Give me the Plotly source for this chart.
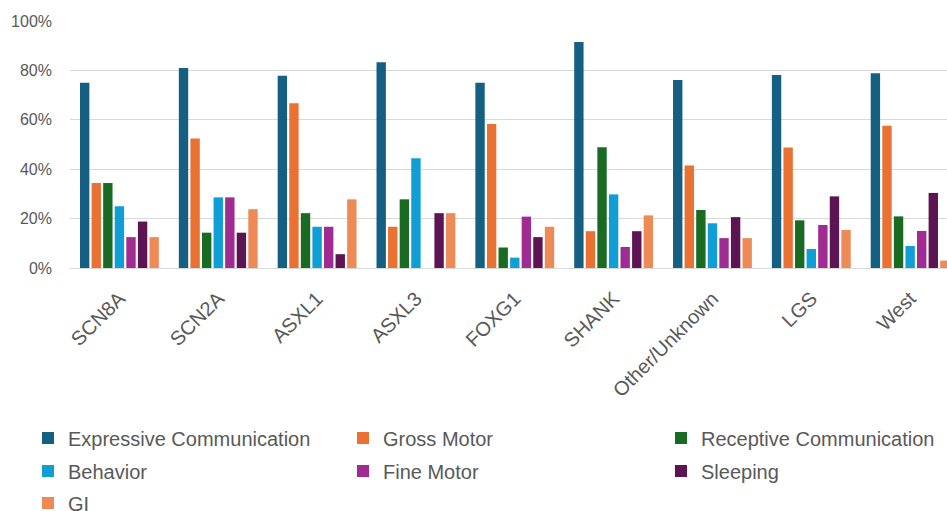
import plotly.graph_objects as go

# Categories (genetic cause / epilepsy syndrome)
categories = ["SCN8A", "SCN2A", "ASXL1", "ASXL3", "FOXG1", "SHANK",
              "Other/Unknown", "LGS", "West"]

# Share of respondents reporting each domain (%)
expressive = [75.0, 81.0, 77.8, 83.3, 75.0, 91.5, 76.1, 78.1, 78.8]
gross_motor = [34.4, 52.4, 66.7, 16.7, 58.3, 14.9, 41.5, 48.8, 57.6]
receptive = [34.4, 14.3, 22.2, 27.8, 8.3, 48.9, 23.5, 19.3, 20.9]
behavior = [25.0, 28.6, 16.7, 44.4, 4.2, 29.8, 18.1, 7.7, 8.9]
fine_motor = [12.5, 28.6, 16.7, 0.0, 20.8, 8.5, 12.1, 17.4, 15.0]
sleeping = [18.8, 14.3, 5.6, 22.2, 12.5, 14.9, 20.6, 29.0, 30.4]
gi = [12.5, 23.8, 27.8, 22.2, 16.7, 21.3, 12.1, 15.4, 3.0]

y_tick_vals = [0, 20, 40, 60, 80, 100]
y_tick_text = ["0%", "20%", "40%", "60%", "80%", "100%"]

# name, values, colour, legend row, entry width
series = [
    ("Expressive Communication", expressive, "#156082", "legend", 270),
    ("Gross Motor", gross_motor, "#E97132", "legend", 273),
    ("Receptive Communication", receptive, "#196B24", "legend", 240),
    ("Behavior", behavior, "#0F9ED5", "legend2", 270),
    ("Fine Motor", fine_motor, "#A02B93", "legend2", 273),
    ("Sleeping", sleeping, "#5C1552", "legend2", 240),
    ("GI", gi, "#EE8A55", "legend3", 240),
]

FONT = "Liberation Sans, Arial, sans-serif"
TXT = "#595959"
GRID = "#D9D9D9"

fig = go.Figure()
for name, vals, color, leg, lw in series:
    fig.add_trace(go.Bar(
        x=categories, y=vals, name=name,
        marker=dict(color=color, line=dict(width=0)),
        legend=leg, legendwidth=lw,
    ))

W, H = 947, 511
ML, MT, MB = 70, 21, 243
plot_h = H - MT - MB
plot_w = W - ML


def py(pix):
    # pixel row -> paper y
    return (MT + plot_h - pix) / plot_h


def px(pix):
    return (pix - ML) / plot_w


legend_common = dict(
    orientation="h", xanchor="left", yanchor="middle",
    font=dict(family=FONT, size=20, color=TXT),
    bgcolor="rgba(0,0,0,0)", borderwidth=0,
    entrywidthmode="pixels", traceorder="normal",
    itemclick=False, itemdoubleclick=False,
)

fig.update_layout(
    width=W, height=H,
    margin=dict(l=ML, r=0, t=MT, b=MB, pad=0, autoexpand=False),
    paper_bgcolor="white", plot_bgcolor="white",
    barmode="group", bargap=0.18, bargroupgap=0.19,
    font=dict(family=FONT, color=TXT),
    showlegend=True,
    legend=dict(x=px(28), y=py(438), **legend_common),
    legend2=dict(x=px(28), y=py(471), **legend_common),
    legend3=dict(x=px(28), y=py(503), **legend_common),
    xaxis=dict(
        range=[-0.5, 8.373],
        tickangle=-45,
        tickfont=dict(family=FONT, size=20, color=TXT),
        ticklabelstandoff=10,
        showline=True, linecolor=GRID, linewidth=1,
        showgrid=False, ticks="", fixedrange=True,
    ),
    yaxis=dict(
        range=[0, 100],
        tickmode="array", tickvals=y_tick_vals, ticktext=y_tick_text,
        tickfont=dict(family=FONT, size=16, color=TXT),
        showgrid=True, gridcolor=GRID, gridwidth=1,
        zeroline=True, zerolinecolor=GRID, zerolinewidth=1,
        showline=False, ticks="", ticklabelstandoff=17,
        fixedrange=True,
    ),
)

fig.write_html("out.html")
